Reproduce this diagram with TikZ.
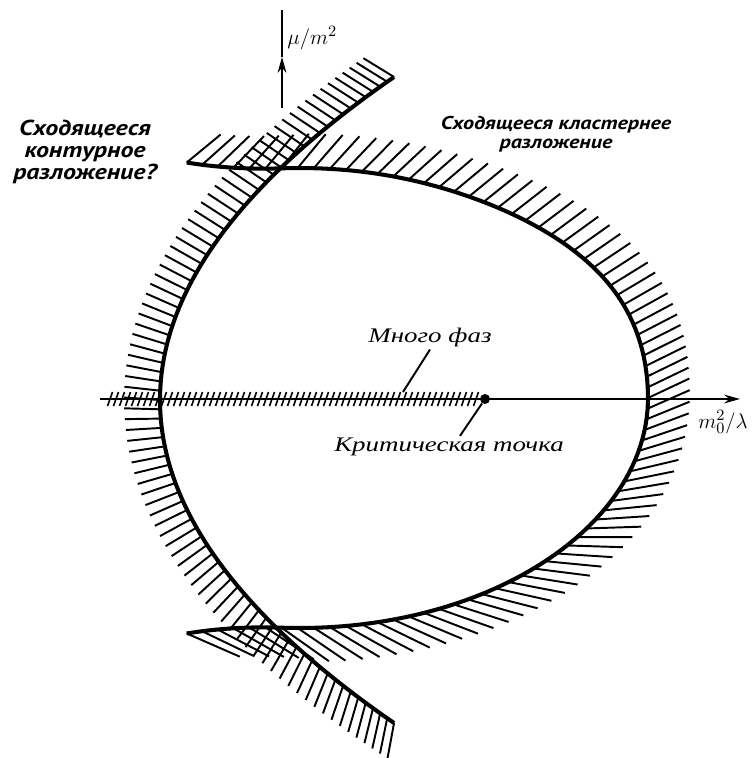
\documentclass[tikz,border=0pt]{standalone}
\usepackage{fontspec}
\usetikzlibrary{arrows.meta}
\newfontfamily\labsans{PT Sans}[FakeStretch=1.2]
\newfontfamily\labserif{Liberation Serif}[FakeStretch=1.3]
\pgfmathdeclarefunction{clx}{1}{\pgfmathparse{300+348*cos(#1)+7*((#1)>0)*((#1)<70)*sin((#1)/70*180)^2}}
\pgfmathdeclarefunction{cly}{1}{\pgfmathparse{-398+230*sin(#1)+18*((#1)>93)*(((#1)-93)/16)^2-18*((#1)<-93)*(((#1)+93)/16)^2}}
\pgfmathdeclarefunction{cox}{1}{\pgfmathparse{160+0.00225*(#1)*(#1)}}

\begin{document}
\begin{tikzpicture}[x=0.02cm,y=0.02cm,
    bound/.style={line width=2.3pt,line join=round},
    hatch/.style={line width=1.1pt},
    axis/.style={line width=1.2pt},
    tip/.style={-{Stealth[length=9pt,width=5pt]}},
    sanslab/.style={font={\labsans\bfseries\itshape\fontsize{#1}{#1}\selectfont},align=center,inner sep=0pt},
    seriflab/.style={font={\labserif\itshape\fontsize{11.8}{12}\selectfont},inner sep=1pt}]
  \useasboundingbox (0,0) rectangle (753,-758);

  \coordinate (xo) at (100,-399);
  \coordinate (xe) at (740,-399);
  \coordinate (yb) at (282,-108);
  \coordinate (ym) at (282,-57);
  \coordinate (yt) at (282,-10);
  \coordinate (mp) at (403,-392);

  \foreach \x in {110,116,...,476}
    \draw[hatch,line width=0.9pt] (\x-2.5,-406) -- (\x+2.5,-392);
  \draw[axis,tip] (xo) -- (xe);
  \draw[axis,tip] (yb) -- (ym);
  \draw[axis] (ym) -- (yt);

  \foreach \k in {-42,...,42}{
    \pgfmathsetmacro\cu{373*sin(60*(\k)/42)}
    \pgfmathsetmacro\ca{atan2(-1,0.0045*(\cu))-66-28*sin(((\cu)+323)/646*180)}
    \draw[hatch] ({cox(\cu)},{-400-(\cu)}) -- ++(\ca:36);
  }
  \foreach \k in {0,...,82}{
    \pgfmathsetmacro\th{109-\k/82*218}
    \pgfmathsetmacro\ca{atan2(cly(\th-1)-cly(\th),clx(\th-1)-clx(\th))+97+50*tanh((\k/82-0.42)/0.2)}
    \pgfmathsetmacro\cl{44+7*(1+tanh((\k/82-0.6)/0.1))}
    \draw[hatch] ({clx(\th)},{cly(\th)}) -- ++(\ca:\cl);
  }
  \draw[bound] plot[domain=-323:323,samples=90] ({cox(\x)},{-400-\x});
  \draw[bound] plot[domain=-109:109,samples=120] ({clx(\x)},{cly(\x)});

  \node[circle,fill,inner sep=0pt,minimum size=0.2cm] (cp) at (485,-399) {};

  \node[sanslab=12.3] (contlab) at (85,-152) {Сходящееся\\контурное\\разложение?};
  \node[sanslab=10.5] (clustlab) at (556,-134) {Сходящееся кластернее\\разложение};
  \node[seriflab] (phases) at (430,-338) {Много фаз};
  \node[seriflab] (crit) at (449,-447) {Критическая точка};
  \node[font=\fontsize{13}{13}\selectfont,anchor=west,inner sep=0pt] (mulab) at (287,-38) {$\mu/m^2$};
  \node[font=\fontsize{13}{13}\selectfont,inner sep=0pt] (mlab) at (723,-422) {$m_0^2/\lambda$};

  \draw[hatch] (phases.south) -- (mp);
  \draw[hatch] (cp) -- ([xshift=0.22cm]crit.north);
\end{tikzpicture}
\end{document}
